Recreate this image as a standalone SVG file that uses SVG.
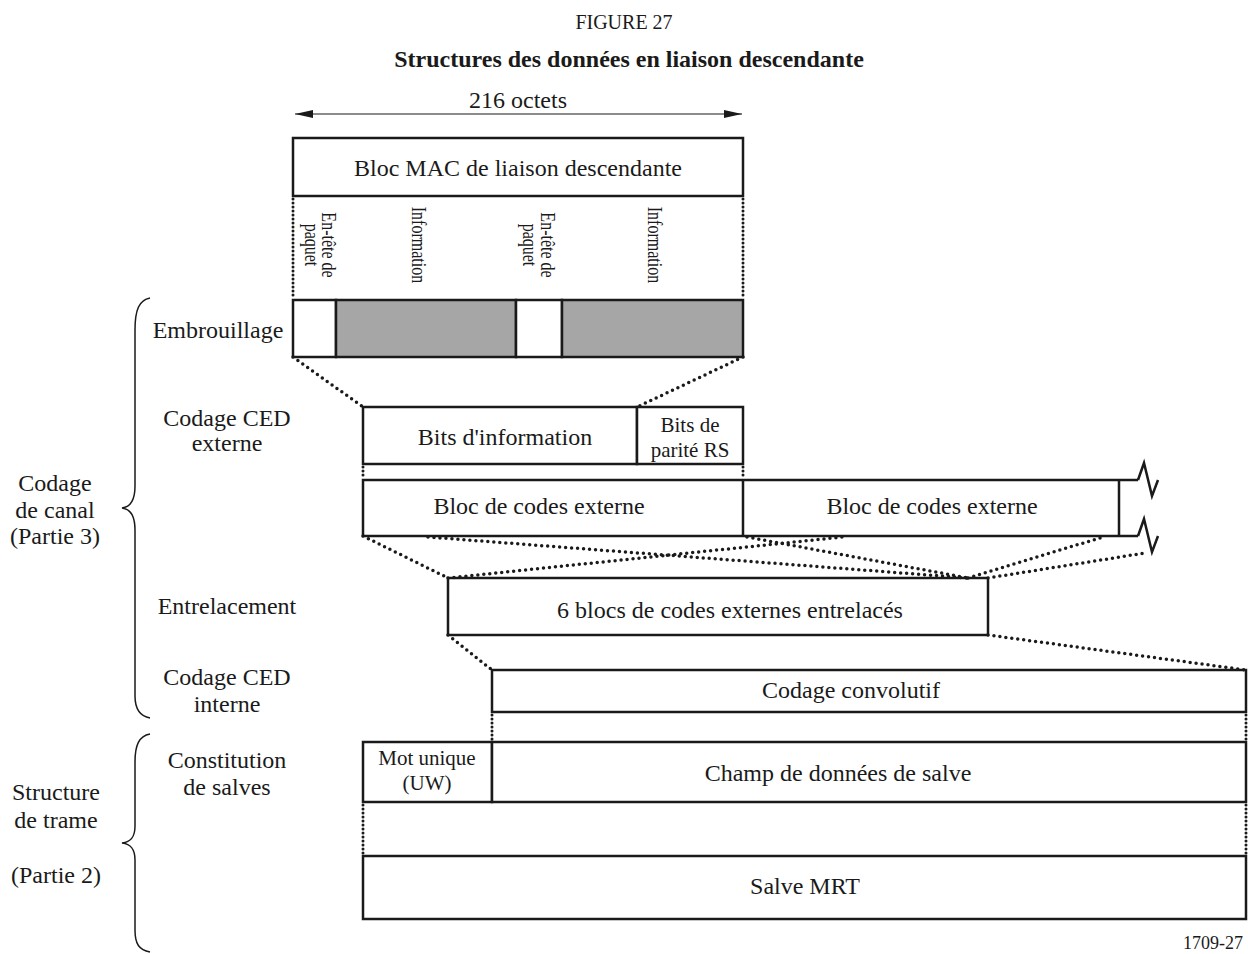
<svg xmlns="http://www.w3.org/2000/svg" width="1248" height="954" viewBox="0 0 1248 954" font-family="'Liberation Serif', serif">
<style>
text{font-family:"Liberation Serif",serif;fill:#1a1a1a}
.t{font-family:"Liberation Serif",serif;font-size:24px;text-anchor:middle}
.s{font-family:"Liberation Serif",serif;font-size:21px;text-anchor:middle}
.v{font-family:"Liberation Serif",serif;font-size:20px;text-anchor:middle}
.box{fill:#fff;stroke:#1a1a1a;stroke-width:2.5}
.gray{fill:#a6a6a6;stroke:#1a1a1a;stroke-width:2.5}
.ln{fill:none;stroke:#1a1a1a;stroke-width:2.5}
.dot{fill:none;stroke:#1a1a1a;stroke-width:3.5;stroke-linecap:round;stroke-dasharray:0 6}
.vdot{fill:none;stroke:#1a1a1a;stroke-width:3;stroke-linecap:round;stroke-dasharray:0 4}
.br{fill:none;stroke:#1a1a1a;stroke-width:1.5}
</style>
<defs>
<marker id="ah" viewBox="0 0 18 8" refX="18" refY="4" markerWidth="18" markerHeight="8" markerUnits="userSpaceOnUse" orient="auto-start-reverse">
<path d="M0,0 L18,4 L0,8 z" fill="#1a1a1a"/>
</marker>
</defs>

<g id="title">
<text x="624" y="29" style="font-size:20px;text-anchor:middle">FIGURE 27</text>
<text x="629" y="67" style="font-size:24px;text-anchor:middle;font-weight:bold">Structures des données en liaison descendante</text>
</g>

<g id="dimension">
<line x1="295" y1="114" x2="742" y2="114" stroke="#1a1a1a" stroke-width="1.2" marker-start="url(#ah)" marker-end="url(#ah)"/>
<text class="t" x="518" y="108">216 octets</text>
</g>

<g id="mac-block">
<rect class="box" x="293" y="138" width="450" height="58"/>
<text class="t" x="518" y="176">Bloc MAC de liaison descendante</text>
</g>

<g id="field-labels">
<text class="v" transform="translate(322,245) rotate(90) scale(0.8,1)">En-tête de</text>
<text class="v" transform="translate(305,245) rotate(90) scale(0.8,1)">paquet</text>
<text class="v" transform="translate(412,245) rotate(90) scale(0.8,1)">Information</text>
<text class="v" transform="translate(541,245) rotate(90) scale(0.8,1)">En-tête de</text>
<text class="v" transform="translate(523,245) rotate(90) scale(0.8,1)">paquet</text>
<text class="v" transform="translate(648,245) rotate(90) scale(0.8,1)">Information</text>
</g>

<g id="scrambled-block">
<rect class="box" x="293" y="300" width="43" height="57"/>
<rect class="gray" x="336" y="300" width="180" height="57"/>
<rect class="box" x="516" y="300" width="46" height="57"/>
<rect class="gray" x="562" y="300" width="181" height="57"/>
</g>

<g id="rs-block">
<rect class="box" x="363" y="407" width="274" height="57"/>
<rect class="box" x="637" y="407" width="106" height="57"/>
<text class="t" x="505" y="445">Bits d'information</text>
<text class="s" x="690" y="432">Bits de</text>
<text class="s" x="690" y="457">parité RS</text>
</g>

<g id="outer-code-blocks">
<path class="ln" d="M1138,480 H363 V536 H1138 M743,480 V536 M1119,480 V536"/>
<path class="ln" d="M1138,480 L1144,463 L1152,496 L1158,480"/>
<path class="ln" d="M1138,536 L1144,519 L1152,552 L1158,536"/>
<text class="t" x="539" y="514">Bloc de codes externe</text>
<text class="t" x="932" y="514">Bloc de codes externe</text>
</g>

<g id="interleaved-block">
<rect class="box" x="448" y="578" width="540" height="57"/>
<text class="t" x="730" y="618">6 blocs de codes externes entrelacés</text>
</g>

<g id="convolutional-block">
<rect class="box" x="492" y="670" width="754" height="42"/>
<text class="t" x="851" y="698">Codage convolutif</text>
</g>

<g id="burst-block">
<rect class="box" x="363" y="742" width="129" height="60"/>
<rect class="box" x="492" y="742" width="754" height="60"/>
<text class="s" x="427" y="765">Mot unique</text>
<text class="s" x="427" y="790">(UW)</text>
<text class="t" x="838" y="781">Champ de données de salve</text>
</g>

<g id="tdma-burst">
<rect class="box" x="363" y="856" width="883" height="63"/>
<text class="t" x="805" y="894">Salve MRT</text>
</g>

<g id="connectors">
<line class="vdot" x1="293" y1="199" x2="293" y2="298"/>
<line class="vdot" x1="743" y1="199" x2="743" y2="298"/>
<line class="dot" x1="293" y1="357" x2="363" y2="407"/>
<line class="dot" x1="743" y1="357" x2="637" y2="407"/>
<line class="vdot" x1="363" y1="467" x2="363" y2="478"/>
<line class="vdot" x1="743" y1="467" x2="743" y2="478"/>
<line class="dot" x1="363" y1="536" x2="448" y2="578"/>
<line class="dot" x1="428" y1="537" x2="968" y2="578"/>
<line class="dot" x1="448" y1="578" x2="843" y2="537"/>
<line class="dot" x1="747" y1="537" x2="968" y2="578"/>
<line class="dot" x1="968" y1="578" x2="1103" y2="537"/>
<line class="dot" x1="988" y1="578" x2="1145" y2="553"/>
<line class="dot" x1="448" y1="635" x2="492" y2="670"/>
<line class="dot" x1="988" y1="635" x2="1246" y2="670"/>
<line class="vdot" x1="492" y1="715" x2="492" y2="740"/>
<line class="vdot" x1="1246" y1="715" x2="1246" y2="740"/>
<line class="vdot" x1="363" y1="805" x2="363" y2="854"/>
<line class="vdot" x1="1246" y1="805" x2="1246" y2="854"/>
</g>

<g id="stage-labels">
<text class="t" x="218" y="338">Embrouillage</text>
<text class="t" x="227" y="426">Codage CED</text>
<text class="t" x="227" y="451">externe</text>
<text class="t" x="227" y="614">Entrelacement</text>
<text class="t" x="227" y="685">Codage CED</text>
<text class="t" x="227" y="712">interne</text>
<text class="t" x="227" y="768">Constitution</text>
<text class="t" x="227" y="795">de salves</text>
</g>

<g id="channel-coding-brace">
<path class="br" d="M150,298 C139,300 135,310 135,330 L135,486 C135,500 131,507 122,508 C131,509 135,516 135,530 L135,696 C135,708 139,716 150,718"/>
<text class="t" x="55" y="491">Codage</text>
<text class="t" x="55" y="518">de canal</text>
<text class="t" x="55" y="544">(Partie 3)</text>
</g>

<g id="frame-structure-brace">
<path class="br" d="M150,734 C139,736 135,745 135,762 L135,826 C135,837 131,842 122,843 C131,844 135,849 135,860 L135,930 C135,944 139,950 150,952"/>
<text class="t" x="56" y="800">Structure</text>
<text class="t" x="56" y="828">de trame</text>
<text class="t" x="56" y="883">(Partie 2)</text>
</g>

<g id="figure-id">
<text x="1243" y="949" style="font-size:18px;text-anchor:end">1709-27</text>
</g>
</svg>
